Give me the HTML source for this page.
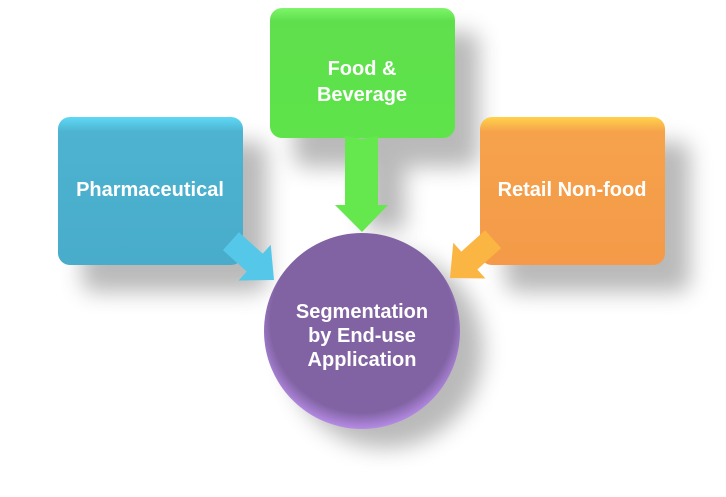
<!DOCTYPE html>
<html><head><style>
html,body{margin:0;padding:0;background:#fff;width:726px;height:497px;overflow:hidden}
svg{display:block}
text{font-family:"Liberation Sans",sans-serif;font-weight:bold;fill:#fff;font-size:20px;text-anchor:middle}
</style></head><body>
<svg width="726" height="497" viewBox="0 0 726 497">
<defs>
<filter id="sh" x="-30%" y="-30%" width="160%" height="160%"><feGaussianBlur stdDeviation="11"/></filter>
<linearGradient id="gb" x1="0" y1="0" x2="0" y2="1"><stop offset="0" stop-color="#5fd8f5"/><stop offset="0.1" stop-color="#4db3d0"/><stop offset="1" stop-color="#48acca"/></linearGradient>
<linearGradient id="gg" x1="0" y1="0" x2="0" y2="1"><stop offset="0" stop-color="#7ef56a"/><stop offset="0.1" stop-color="#5fdf4c"/><stop offset="1" stop-color="#5ee44a"/></linearGradient>
<linearGradient id="go" x1="0" y1="0" x2="0" y2="1"><stop offset="0" stop-color="#ffd24a"/><stop offset="0.1" stop-color="#f6a24c"/><stop offset="1" stop-color="#f49a48"/></linearGradient>
<radialGradient id="gp" cx="0.5" cy="0.45" r="0.55"><stop offset="0.85" stop-color="#8163a3"/><stop offset="1" stop-color="#b68be6"/></radialGradient>
</defs>
<g fill="#666" opacity="0.45" filter="url(#sh)">
<rect x="82" y="142" width="185" height="150" rx="12"/>
<rect x="294" y="32" width="185" height="135" rx="12"/>
<rect x="505" y="142" width="185" height="150" rx="12"/>
<rect x="365" y="150" width="40" height="80"/>
<circle cx="385" cy="350" r="98"/>
</g>
<rect x="58" y="117" width="185" height="148" rx="12" fill="url(#gb)"/>
<g transform="translate(274,280) rotate(42)">
<polygon points="0,0 -26,-24 -26,-12 -58,-12 -58,12 -26,12 -26,24" fill="#55c8ea"/>
</g>
<rect x="480" y="117" width="185" height="148" rx="12" fill="url(#go)"/>
<g transform="translate(450,278) rotate(138)">
<polygon points="0,0 -26,-24 -26,-12 -58,-12 -58,12 -26,12 -26,24" fill="#fbb543"/>
</g>
<rect x="270" y="8" width="185" height="130" rx="12" fill="url(#gg)"/>
<polygon points="345,136 362,139 378,136 378,205 388,205 362,232 335,205 345,205" fill="#64e84e"/>
<circle cx="362" cy="331" r="98" fill="url(#gp)"/>
<text x="150" y="196">Pharmaceutical</text>
<text x="362" y="75">Food &amp;</text>
<text x="362" y="101">Beverage</text>
<text x="572" y="196">Retail Non-food</text>
<text x="362" y="318" font-size="19">Segmentation</text>
<text x="362" y="342" font-size="19">by End-use</text>
<text x="362" y="366" font-size="19">Application</text>
</svg>
</body></html>
